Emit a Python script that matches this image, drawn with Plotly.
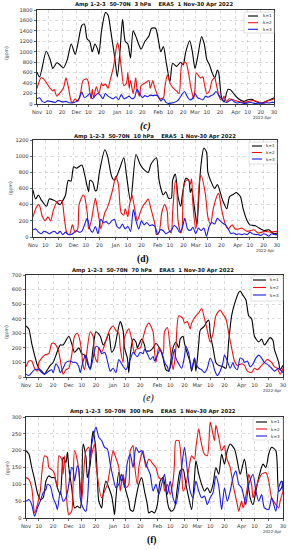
import plotly.graph_objects as go
import pandas as pd

W, H = 292, 550
START = pd.Timestamp("2021-11-01")

tick_dates = ["2021-11-01", "2021-11-10", "2021-11-20", "2021-12-01", "2021-12-10", "2021-12-20",
              "2022-01-01", "2022-01-10", "2022-01-20", "2022-02-01", "2022-02-10", "2022-02-20",
              "2022-03-01", "2022-03-10", "2022-03-20", "2022-04-01", "2022-04-10", "2022-04-20",
              "2022-04-30"]
tick_text = ["Nov", "10", "20", "Dec", "10", "20", "Jan", "10", "20", "Feb", "10", "20",
             "Mar", "10", "20", "Apr", "10", "20", "30"]
series_names = ["k=1", "k=2", "k=3"]
series_colors = ["black", "#ee1111", "#1a1ae6"]
grid2 = list(range(0, 181, 2))

# ---------------- panel (c) 3 hPa ----------------
c1_days = [0,2,7,10,12,15,17,20,23,26,29,31,34,36,38,40,42,44,46,47,49,52,54,56,59,61,63,65,67,69,71,73,75,77,79,82,85,87,90,92,94,96,98,101,103,106,109,111,113,116,118,120,122,125,127,129,131,133,135,137,138,140,142,145,147,150,153,157,160,163,166,170,174,177,180]
c1_vals = [610,520,1010,850,680,790,760,690,850,1150,950,1150,1500,1530,1250,1200,1000,1150,1050,950,1400,1750,1700,1400,900,520,1000,1620,1200,1150,880,1400,1300,1160,1050,1200,1300,1450,1450,1250,1000,1100,820,430,780,720,800,750,1000,1210,1000,680,900,1290,1150,850,750,600,500,650,600,150,40,280,270,180,100,50,80,90,50,20,50,80,120]
c2_days = [0,3,5,10,12,13,15,17,20,21,22,24,26,27,29,31,33,35,38,39,41,42,43,45,47,49,50,52,54,55,58,61,62,64,66,68,69,70,71,73,75,76,78,79,82,85,86,88,89,91,93,96,97,99,101,103,106,108,110,113,115,117,119,120,121,124,126,127,129,131,133,135,136,139,141,142,144,146,149,153,157,161,164,169,172,174,178,180]
c2_vals = [300,500,480,300,250,280,150,200,300,400,500,300,50,30,100,50,200,450,480,420,100,280,120,330,200,400,350,380,300,400,700,1170,1100,700,350,400,600,300,450,200,500,280,150,350,400,450,300,450,350,200,100,120,300,560,400,320,250,200,750,800,600,300,100,300,600,500,520,400,200,250,450,500,400,100,80,150,50,100,80,50,30,50,70,30,20,50,80,100]
c3_days = grid2
c3_vals = [100,120,50,30,60,50,40,30,70,50,40,50,30,20,30,50,100,230,120,150,200,100,150,200,170,100,200,150,120,100,140,80,180,100,120,150,100,120,280,200,120,160,140,170,160,170,150,60,100,30,10,20,30,50,100,180,240,150,80,100,200,120,100,80,150,130,160,180,240,170,110,50,30,60,80,40,20,30,20,10,20,30,20,10,15,20,15,25,20,30,30]

# ---------------- panel (d) 10 hPa ----------------
d1_days = [0,2,4,6,10,12,16,20,22,24,26,28,30,32,36,38,41,42,44,46,47,49,53,55,58,60,62,64,67,69,72,76,79,81,85,87,91,93,95,96,98,100,102,103,105,107,109,110,112,113,115,116,117,118,120,121,122,123,124,126,128,129,131,134,136,138,139,140,143,145,148,150,153,155,158,160,164,168,171,174,176,178,180]
d1_vals = [580,470,520,460,380,470,450,400,450,520,700,690,870,850,890,780,560,700,680,570,580,800,1080,1000,750,700,760,850,980,760,440,1020,900,850,800,900,980,700,560,520,560,480,480,700,780,500,380,500,700,730,700,550,600,500,250,150,400,700,900,1100,1050,800,700,600,650,560,500,450,350,500,530,550,500,350,200,150,140,100,80,90,60,40,50]
d2_days = [0,2,4,5,7,9,11,13,15,18,21,22,23,25,27,29,31,33,34,37,38,40,41,43,46,47,49,50,53,55,59,61,63,65,67,68,70,71,73,75,77,79,81,84,85,87,90,91,93,95,97,99,100,102,103,105,106,107,109,110,111,113,115,116,117,118,120,121,123,124,127,129,131,133,136,137,139,142,144,147,149,152,154,158,163,166,171,175,180]
d2_vals = [250,350,400,380,250,200,250,200,330,440,450,400,250,50,30,150,60,100,400,520,500,300,100,200,480,400,200,100,300,370,600,750,650,300,270,350,250,380,520,350,200,300,380,450,470,350,150,30,60,300,400,320,100,50,300,700,620,200,50,100,600,700,700,650,720,400,100,200,720,760,550,250,160,350,520,540,350,150,100,150,100,100,110,70,90,50,70,60,70]
d3_days = grid2
d3_vals = [90,100,60,40,70,60,40,60,70,40,70,30,60,30,30,50,80,60,70,150,230,100,60,130,40,220,180,190,160,200,220,130,110,160,100,130,70,340,200,100,200,150,180,140,150,130,30,90,80,40,60,80,140,120,60,110,230,100,80,120,40,110,80,110,10,130,180,160,230,200,170,150,100,40,50,30,40,30,40,30,60,40,30,30,20,40,30,10,40,30,30]

# ---------------- panel (e) 70 hPa ----------------
e1_days = [0,2,4,6,8,9,11,13,15,17,19,21,24,26,30,32,34,37,39,41,44,45,47,49,52,54,56,58,60,62,64,66,68,69,71,72,73,75,77,78,79,81,83,84,87,89,91,94,96,98,100,102,103,105,107,108,110,111,113,115,116,118,119,121,122,125,126,128,129,131,133,135,138,140,142,144,146,149,150,152,154,156,158,160,163,165,167,171,173,174,177,178,180]
e1_vals = [350,330,230,150,80,60,40,20,50,80,100,150,220,220,280,230,170,200,160,150,70,60,200,310,280,220,250,300,170,200,300,380,320,200,130,30,150,260,240,200,220,260,220,180,180,200,230,190,130,50,40,150,200,240,200,260,280,230,160,100,40,130,40,230,320,350,370,390,300,200,100,80,70,60,250,420,500,580,590,560,530,420,400,280,240,260,220,270,250,190,100,50,80]
e2_days = [0,2,4,6,8,9,11,13,16,18,20,22,23,25,26,28,30,32,34,36,38,40,41,43,45,47,48,50,51,53,55,56,59,61,63,65,66,68,69,72,74,76,77,80,82,84,86,89,90,91,93,96,97,99,101,103,104,105,107,110,111,113,115,116,119,121,123,125,127,129,131,133,136,138,140,142,144,146,148,151,153,155,158,160,162,165,167,169,172,174,176,178,180]
e2_vals = [70,110,110,60,40,100,130,150,160,230,230,200,170,60,20,50,60,150,280,300,240,80,50,200,310,280,150,100,200,170,220,250,330,350,320,300,200,100,270,330,260,160,190,200,270,340,370,310,180,100,200,160,310,340,200,50,100,200,420,400,370,380,330,370,420,440,470,400,320,240,300,420,460,430,400,300,200,110,80,90,80,40,30,60,50,80,100,120,100,70,60,20,60]
e3_days = [0,2,4,6,9,11,13,16,18,19,21,23,24,26,28,31,33,35,37,38,40,42,44,45,47,49,51,53,55,56,58,59,61,63,65,67,69,70,73,75,76,78,80,82,83,85,87,89,90,92,94,96,97,99,100,102,104,105,107,109,111,112,114,116,118,119,121,123,125,127,129,131,132,134,136,138,139,141,143,145,146,148,150,152,153,155,157,159,161,163,165,167,170,172,174,177,178,180]
e3_vals = [20,10,30,50,50,30,20,40,50,30,90,60,30,60,100,110,100,100,70,30,110,150,70,50,130,210,200,160,170,150,70,40,60,30,120,90,60,50,120,170,160,140,170,160,190,160,120,140,110,150,190,140,100,70,40,100,190,130,90,60,140,210,160,50,130,90,60,50,30,60,130,90,50,10,40,100,150,110,60,100,70,50,130,120,100,110,70,90,130,150,130,100,80,60,40,60,50,30]

# ---------------- panel (f) 300 hPa ----------------
f1_days = [0,2,4,6,8,10,12,14,16,18,20,22,24,25,26,28,29,30,32,34,36,38,39,40,42,43,45,46,47,49,50,51,53,54,56,58,60,61,62,63,65,67,68,70,72,73,75,77,79,81,83,85,86,88,90,92,94,96,98,100,102,104,106,108,110,112,114,116,118,119,121,123,125,127,129,131,133,135,137,139,141,143,146,148,150,153,155,157,159,161,163,166,168,170,172,175,177,179,180]
f1_vals = [200,190,150,115,75,55,60,110,125,120,120,90,70,120,180,165,195,150,90,30,35,30,80,220,180,120,160,230,258,200,120,50,30,70,110,90,65,40,10,60,135,110,120,80,50,25,20,60,100,120,80,40,15,20,15,40,110,120,80,30,20,30,90,140,145,100,60,25,120,170,130,100,80,90,75,100,150,130,190,160,200,220,205,170,130,175,120,60,40,80,120,160,150,190,210,200,80,90,110]
f2_days = [0,2,4,5,6,8,10,11,13,15,16,19,20,22,23,25,26,27,28,29,30,32,33,34,36,38,39,42,44,45,48,49,53,55,57,59,61,62,65,66,68,70,72,73,75,76,78,79,81,82,84,86,89,91,93,96,97,99,101,103,104,105,107,109,110,112,115,116,118,119,121,122,124,125,127,129,130,132,133,135,137,139,140,143,145,148,149,151,152,155,156,158,159,161,165,168,170,172,175,177,178,180]
f2_vals = [120,115,90,50,15,40,80,130,185,180,150,140,130,90,185,175,130,185,100,30,10,20,100,200,170,100,50,200,210,175,220,160,60,80,100,150,200,190,150,80,130,90,100,200,215,160,100,150,190,200,150,175,160,150,120,110,80,100,70,110,160,230,230,150,80,100,170,185,175,210,265,240,200,190,185,285,270,230,275,240,200,215,185,150,100,40,20,50,30,90,130,100,60,90,130,135,110,60,40,30,50,80]
f3_days = [0,2,4,6,8,10,12,14,15,17,19,21,22,24,26,28,30,32,33,34,36,37,38,40,42,43,45,47,49,51,53,55,57,59,61,63,65,67,69,71,73,75,77,79,81,83,85,87,89,91,93,95,97,99,101,103,105,107,109,111,113,115,117,119,121,123,125,127,129,131,133,135,137,139,141,143,145,147,149,151,153,154,156,159,161,163,165,167,170,172,175,177,179,180]
f3_vals = [50,55,40,5,30,50,75,85,100,95,60,40,25,80,50,60,100,150,145,110,155,145,60,30,20,50,190,240,270,240,230,210,205,160,120,90,100,130,90,165,190,150,210,195,200,175,150,130,80,100,70,100,130,70,110,60,40,90,150,210,140,80,60,110,80,60,65,40,60,75,125,95,25,90,50,80,120,140,100,90,55,40,100,130,80,50,70,30,25,60,20,90,110,80]

panels = [
    dict(title="Amp 1-2-3\u00a0\u00a050-70N\u00a0\u00a03 hPa\u00a0\u00a0\u00a0\u00a0ERA5\u00a0\u00a01 Nov-30 Apr 2022",
         series=[(c1_days, c1_vals), (c2_days, c2_vals), (c3_days, c3_vals)],
         ymax=1800, dtick=200, letter="<b><i>(c)</i></b>",
         px=(37, 274), py=(10, 104), title_xy=(154, 5), letter_xy=(145, 126), note_xy=(262, 117.5),
         ylab_xy=(7, 53), leg_box=(244, 274, 12, 33), leg_line=(248, 258), leg_text=261, leg_rows=(16, 22.7, 29.3)),
    dict(title="Amp 1-2-3\u00a0\u00a050-70N\u00a0\u00a010 hPa\u00a0\u00a0\u00a0\u00a0ERA5\u00a0\u00a01 Nov-30 Apr 2022",
         series=[(d1_days, d1_vals), (d2_days, d2_vals), (d3_days, d3_vals)],
         ymax=1200, dtick=200, letter="<b>(d)</b>",
         px=(33, 277), py=(140, 237), title_xy=(155, 136), letter_xy=(143, 260), note_xy=(265, 250),
         ylab_xy=(10, 188), leg_box=(249, 277, 142, 164), leg_line=(252, 262), leg_text=264, leg_rows=(146, 152.5, 159)),
    dict(title="Amp 1-2-3\u00a0\u00a050-70N\u00a0\u00a070 hPa\u00a0\u00a0\u00a0\u00a0ERA5\u00a0\u00a01 Nov-30 Apr 2022",
         series=[(e1_days, e1_vals), (e2_days, e2_vals), (e3_days, e3_vals)],
         ymax=700, dtick=100, letter="<i>(e)</i>",
         px=(26, 283), py=(275, 377), title_xy=(153, 270), letter_xy=(148, 398), note_xy=(272, 390),
         ylab_xy=(6, 332), leg_box=(251, 283, 276, 301), leg_line=(253, 266), leg_text=268, leg_rows=(280, 287.5, 295)),
    dict(title="Amp 1-2-3\u00a0\u00a050-70N\u00a0\u00a0300 hPa\u00a0\u00a0\u00a0\u00a0ERA5\u00a0\u00a01 Nov-30 Apr 2022",
         series=[(f1_days, f1_vals), (f2_days, f2_vals), (f3_days, f3_vals)],
         ymax=300, dtick=50, letter="<b>(f)</b>",
         px=(26, 283), py=(417, 518), title_xy=(153, 411), letter_xy=(152, 540), note_xy=(272, 531.5),
         ylab_xy=(7, 468), leg_box=(253, 283, 418, 440), leg_line=(256, 267), leg_text=269, leg_rows=(422, 429, 436)),
]


def xp(x):
    return x / W


def yp(y):
    return 1 - y / H


fig = go.Figure()
annotations = []
shapes = []
FONT = "DejaVu Sans"

for i, p in enumerate(panels, start=1):
    sfx = "" if i == 1 else str(i)
    for (days, vals), name, col in zip(p["series"], series_names, series_colors):
        dates = [START + pd.Timedelta(days=d) for d in days]
        fig.add_trace(go.Scatter(x=dates, y=vals, mode="lines", name=name, showlegend=False,
                                 line=dict(color=col, width=1.1, shape="spline", smoothing=0.7),
                                 xaxis="x" + sfx, yaxis="y" + sfx))
    axis_common = dict(showline=True, linecolor="black", linewidth=0.8, mirror=True, automargin=False,
                       ticks="outside", ticklen=2.5, tickwidth=0.6, tickcolor="black",
                       showgrid=True, gridcolor="#c4c4c4", griddash="dot", gridwidth=0.6,
                       zeroline=False, tickfont=dict(family=FONT, size=5.2, color="#333333"))
    fig.update_layout(**{
        "xaxis" + sfx: dict(axis_common, type="date", anchor="y" + sfx,
                            domain=[xp(p["px"][0]), xp(p["px"][1])],
                            range=["2021-11-01", "2022-04-30"],
                            tickmode="array", tickvals=tick_dates, ticktext=tick_text, ticklabelstandoff=0),
        "yaxis" + sfx: dict(axis_common, anchor="x" + sfx,
                            domain=[yp(p["py"][1]), yp(p["py"][0])],
                            range=[0, p["ymax"]], dtick=p["dtick"], tick0=0),
    })
    annotations.append(dict(x=xp(p["title_xy"][0]), y=yp(p["title_xy"][1]), xref="paper", yref="paper",
                            text="<b>" + p["title"] + "</b>", showarrow=False, xanchor="center", yanchor="middle",
                            font=dict(family=FONT, size=5.3, color="#111111")))
    annotations.append(dict(x=xp(p["letter_xy"][0]), y=yp(p["letter_xy"][1]), xref="paper", yref="paper",
                            text=p["letter"], showarrow=False, xanchor="center", yanchor="middle",
                            font=dict(family="Liberation Serif", size=9.5, color="black")))
    annotations.append(dict(x=xp(p["note_xy"][0]), y=yp(p["note_xy"][1]), xref="paper", yref="paper",
                            text="2022-Apr", showarrow=False, xanchor="center", yanchor="middle",
                            font=dict(family=FONT, size=4.0, color="#333333")))
    annotations.append(dict(x=xp(p["ylab_xy"][0]), y=yp(p["ylab_xy"][1]), xref="paper", yref="paper",
                            text="(gpm)", showarrow=False, textangle=-90, xanchor="center", yanchor="middle",
                            font=dict(family=FONT, size=4.6, color="#333333")))
    x0, x1, y0, y1 = p["leg_box"]
    shapes.append(dict(type="rect", xref="paper", yref="paper", x0=xp(x0), x1=xp(x1), y0=yp(y1), y1=yp(y0),
                       fillcolor="white", line=dict(color="#cccccc", width=0.6), layer="above"))
    for row_y, name, col in zip(p["leg_rows"], series_names, series_colors):
        shapes.append(dict(type="line", xref="paper", yref="paper",
                           x0=xp(p["leg_line"][0]), x1=xp(p["leg_line"][1]), y0=yp(row_y), y1=yp(row_y),
                           line=dict(color=col, width=1.1), layer="above"))
        annotations.append(dict(x=xp(p["leg_text"]), y=yp(row_y), xref="paper", yref="paper",
                                text=name, showarrow=False, xanchor="left", yanchor="middle",
                                font=dict(family=FONT, size=4.2, color="#222222")))

fig.update_layout(width=W, height=H, autosize=False,
                  margin=dict(l=0, r=0, t=0, b=0, pad=0),
                  paper_bgcolor="white", plot_bgcolor="white",
                  showlegend=False, annotations=annotations, shapes=shapes)

fig.write_html("out.html", config={"displayModeBar": False, "staticPlot": True},
               post_script="document.body.style.margin='0';document.body.style.padding='0';"
                           "document.documentElement.style.overflow='hidden';")
